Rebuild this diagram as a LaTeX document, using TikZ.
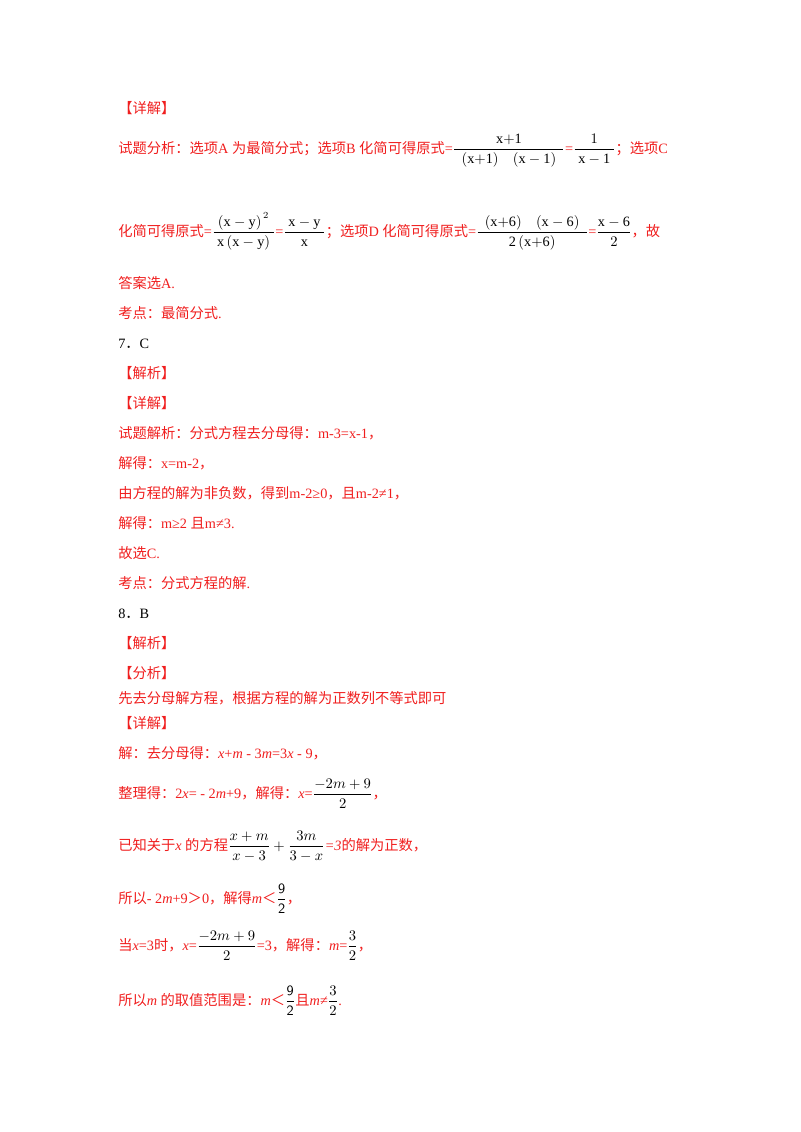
\documentclass[tikz,border=0pt]{standalone}
\usepackage{amsmath}
\usepackage{fontspec}
\setmainfont{Liberation Serif}
\newfontfamily\cjk{Noto Sans CJK SC}
\definecolor{rd}{RGB}{240,30,30}
\begin{document}
\begin{tikzpicture}[x=0.75pt,y=-0.75pt,
  ln/.style={anchor=base west,inner sep=0pt,font=\fontsize{10.7}{12}\selectfont,text=rd},
  bk/.style={ln,text=black}]
\useasboundingbox (0,0) rectangle (800,1132);
\node[ln] (l1) at (118,113) {\cjk 【详解】};
\node[ln] (l2) at (118,153) {\cjk 试题分析：选项\rmfamily A \cjk 为最简分式；选项\rmfamily B \cjk 化简可得原式\rmfamily=\color{black}$\dfrac{\mathrm{x{+}1}}{\mathrm{\ \ (x{+}1)\quad (x-1)\ \ }}$\color{rd}=\color{black}$\dfrac{1}{\mathrm{\ x-1\ }}$\color{rd}\cjk ；选项\rmfamily C};
\node[ln] (l3) at (118,236) {\cjk 化简可得原式\rmfamily=\color{black}$\dfrac{\mathrm{\ (x-y)}^{\,2}\ }{\mathrm{\ x\,(x-y)\ }}$\color{rd}=\color{black}$\dfrac{\mathrm{\ x-y\ }}{\mathrm{x}}$\color{rd}\cjk ；选项\rmfamily D \cjk 化简可得原式\rmfamily=\color{black}$\dfrac{\mathrm{\ \ (x{+}6)\quad (x-6)\ \ }}{\mathrm{2\,(x{+}6)}}$\color{rd}=\color{black}$\dfrac{\mathrm{x-6}}{2}$\color{rd}\cjk ，故};
\node[ln] (l4) at (118,288) {\cjk 答案选\rmfamily A.};
\node[ln] (l5) at (118,318) {\cjk 考点：最简分式\rmfamily .};
\node[bk] (l6) at (118,348) {7\cjk ．\rmfamily C};
\node[ln] (l7) at (118,378) {\cjk 【解析】};
\node[ln] (l8) at (118,408) {\cjk 【详解】};
\node[ln] (l9) at (118,438) {\cjk 试题解析：分式方程去分母得：\rmfamily m-3=x-1\cjk ，};
\node[ln] (l10) at (118,468) {\cjk 解得：\rmfamily x=m-2\cjk ，};
\node[ln] (l11) at (118,498) {\cjk 由方程的解为非负数，得到\rmfamily m-2≥0\cjk ，且\rmfamily m-2≠1\cjk ，};
\node[ln] (l12) at (118,528) {\cjk 解得：\rmfamily m≥2 \cjk 且\rmfamily m≠3.};
\node[ln] (l13) at (118,558) {\cjk 故选\rmfamily C.};
\node[ln] (l14) at (118,588) {\cjk 考点：分式方程的解\rmfamily .};
\node[bk] (l15) at (118,618) {8\cjk ．\rmfamily B};
\node[ln] (l16) at (118,648) {\cjk 【解析】};
\node[ln] (l17) at (118,678) {\cjk 【分析】};
\node[ln] (l18) at (118,703) {\cjk 先去分母解方程，根据方程的解为正数列不等式即可};
\node[ln] (l19) at (118,728) {\cjk 【详解】};
\node[ln] (l20) at (118,758) {\cjk 解：去分母得：\rmfamily\itshape x\upshape +\itshape m \upshape - 3\itshape m\upshape =3\itshape x \upshape - 9\cjk ，};
\node[ln] (l21) at (118,798) {\cjk 整理得：\rmfamily 2\itshape x\upshape = - 2\itshape m\upshape +9\cjk ，解得：\rmfamily\itshape x\upshape =\color{black}$\dfrac{-2m+9}{2}$\color{rd}\cjk ，};
\node[ln] (l22) at (118,850) {\cjk 已知关于\rmfamily\itshape x \cjk 的方程\color{black}$\dfrac{x+m}{x-3}+\dfrac{3m}{3-x}$\color{rd}\rmfamily =3\cjk 的解为正数，};
\node[ln] (l23) at (118,903) {\cjk 所以\rmfamily - 2\itshape m\upshape +9\cjk ＞\rmfamily 0\cjk ，解得\rmfamily\itshape m\cjk ＜\color{black}$\dfrac{\mathsf{9}}{\mathsf{2}}$\color{rd}\cjk ，};
\node[ln] (l24) at (118,950) {\cjk 当\rmfamily\itshape x\upshape =3\cjk 时，\rmfamily\itshape x\upshape =\color{black}$\dfrac{-2m+9}{2}$\color{rd}\rmfamily =3\cjk ，解得：\rmfamily\itshape m\upshape =\color{black}$\dfrac{3}{2}$\color{rd}\cjk ，};
\node[ln] (l25) at (118,1005) {\cjk 所以\rmfamily\itshape m \cjk 的取值范围是：\rmfamily\itshape m\cjk ＜\color{black}$\dfrac{\mathsf{9}}{\mathsf{2}}$\color{rd}\cjk 且\rmfamily\itshape m\upshape ≠\color{black}$\dfrac{3}{2}$\color{rd}\rmfamily .};
\end{tikzpicture}
\end{document}
